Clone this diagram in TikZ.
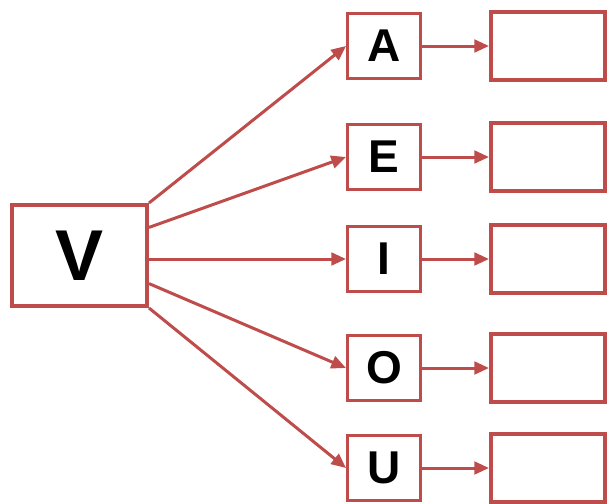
\documentclass[tikz,border=0pt]{standalone}
\usepackage{fontspec}
\setmainfont{Liberation Sans}
\usepackage{tikz}
\usetikzlibrary{arrows.meta}
\definecolor{VowelRed}{RGB}{190,76,74}

\begin{document}
\begin{tikzpicture}[x=0.75pt,y=0.75pt,yscale=-1,xscale=1,
  bigbox/.style={draw=VowelRed, line width=3pt, inner sep=0pt, minimum width=101.25pt, minimum height=75.75pt, font=\fontsize{54}{54}\selectfont\bfseries},
  vowelbox/.style={draw=VowelRed, line width=2.25pt, inner sep=0pt, minimum width=54.75pt, minimum height=48.75pt, font=\fontsize{34.5}{34.5}\selectfont\bfseries},
  blankbox/.style={draw=VowelRed, line width=3pt, inner sep=0pt, minimum width=85.5pt, minimum height=51pt},
  link/.style={draw=VowelRed, line width=2.25pt, -{Triangle[length=11pt,width=9.5pt]}}]
\useasboundingbox (0,0) rectangle (608,504);

% Main box
\node [bigbox] (V) at (79.5,255.5) {V};

% Vowel boxes and empty boxes
\foreach \vow/\yy in {A/46,E/157,I/259,O/368,U/468}{
  \node [vowelbox] (\vow) at (384,\yy) {\vow};
  \node [blankbox] (\vow box) at (548,\yy) {};
  \draw [link] (\vow.east) -- (\vow box.west);
}

% Straight Lines from V
\draw [link] (V.north east) -- (A.west);
\draw [link] (V.22) -- (E.west);
\draw [link] (V.east |- I.west) -- (I.west);
\draw [link] (V.-22) -- (O.west);
\draw [link] (V.south east) -- (U.west);

\end{tikzpicture}
\end{document}
